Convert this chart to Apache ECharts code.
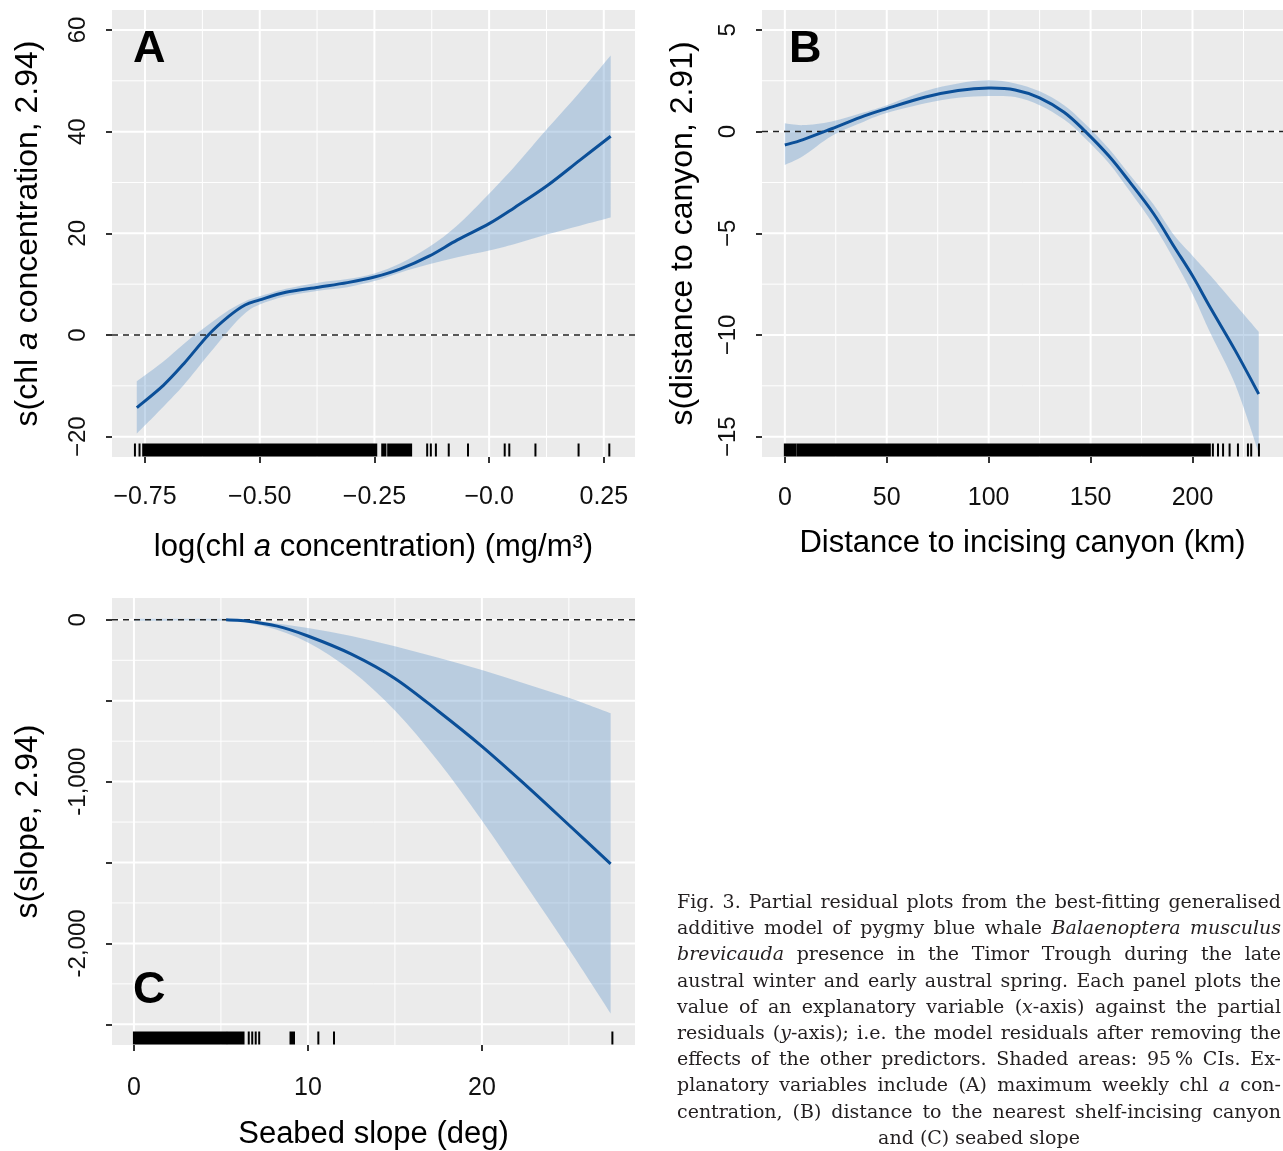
<!DOCTYPE html>
<html>
<head>
<meta charset="utf-8">
<script src="https://cdn.jsdelivr.net/npm/echarts@6/dist/echarts.min.js"></script>
<style>
  html, body { margin: 0; padding: 0; background: #fff; overflow: hidden; }
  #chart { position: absolute; left: 0; top: 0; width: 1283px; height: 1151px; }
  #caption {
    position: absolute; left: 677px; top: 888px; width: 604px;
    font-family: "DejaVu Serif", "Liberation Serif", serif; font-size: 19px;
    line-height: 26.2px; color: #231f20;
  }
  #caption div { text-align: justify; text-align-last: justify; }
  #caption div.last { text-align: center; text-align-last: center; }
</style>
</head>
<body>
<div id="chart"></div>
<div id="caption">
  <div>Fig. 3. Partial residual plots from the best-fitting generalised</div>
  <div>additive model of pygmy blue whale <i>Balaenoptera musculus</i></div>
  <div><i>brevicauda</i> presence in the Timor Trough during the late</div>
  <div>austral winter and early austral spring. Each panel plots the</div>
  <div>value of an explanatory variable (<i>x</i>-axis) against the partial</div>
  <div>residuals (<i>y</i>-axis); i.e. the model residuals after removing the</div>
  <div>effects of the other predictors. Shaded areas: 95&#8201;% CIs. Ex-</div>
  <div>planatory variables include (A) maximum weekly chl <i>a</i> con-</div>
  <div>centration, (B) distance to the nearest shelf-incising canyon</div>
  <div class="last">and (C) seabed slope</div>
</div>
<script>
// ---- panel A: chl a ----
const chlX = [-0.768, -0.71, -0.665, -0.612, -0.567, -0.532, -0.5, -0.443, -0.372, -0.309, -0.25, -0.193, -0.131, -0.069, 0, 0.056, 0.127, 0.198, 0.265];
const chlFit = [-14.3, -9.9, -5.6, 0, 3.7, 5.9, 6.9, 8.4, 9.4, 10.3, 11.4, 13.0, 15.5, 18.7, 21.9, 25.1, 29.4, 34.4, 39.1];
const chlLo = [-19.4, -14.1, -9.8, -3.9, 1.0, 4.3, 6.0, 7.6, 8.7, 9.4, 10.6, 12.3, 13.9, 15.3, 16.6, 17.9, 19.8, 21.5, 23.1];
const chlHi = [-9.1, -5.2, -1.7, 2.0, 4.9, 6.6, 7.6, 9.1, 10.3, 11.0, 12.1, 14.1, 17.3, 21.6, 27.8, 33.2, 40.6, 47.8, 55.0];
const chlRug = [-0.772, -0.762, [-0.754, -0.246], [-0.233, -0.226], [-0.22, -0.17], -0.135, -0.127, -0.116, -0.088, -0.046, 0.034, 0.044, 0.101, 0.195, 0.262];
const chlTicks = [-0.75, -0.5, -0.25, 0, 0.25];
const chlTickLabels = ['\u22120.75', '\u22120.50', '\u22120.25', '\u22120.0', '0.25'];
const chlYTicks = [-20, 0, 20, 40, 60];
const chlYTickLabels = ['\u221220', '0', '20', '40', '60'];
const chlMinorX = [-0.625, -0.375, -0.125, 0.125];
const chlMinorY = [-10, 10, 30, 50];

// ---- panel B: distance to canyon ----
const distX = [0, 9, 23, 39, 50, 69, 85, 100, 113, 125, 137, 147, 159, 169, 181, 191, 200, 209, 221, 232.5];
const distFit = [-0.66, -0.39, 0.14, 0.77, 1.13, 1.7, 2.02, 2.14, 2.05, 1.66, 0.95, 0.05, -1.2, -2.45, -4.05, -5.66, -7.09, -8.7, -10.77, -12.9];
const distLo = [-1.64, -1.2, -0.21, 0.5, 0.91, 1.39, 1.66, 1.75, 1.7, 1.3, 0.59, -0.3, -1.55, -2.9, -4.6, -6.3, -7.98, -9.95, -12.45, -15.8];
const distHi = [0.41, 0.32, 0.5, 0.95, 1.3, 2.0, 2.37, 2.52, 2.37, 1.98, 1.3, 0.41, -0.84, -2.1, -3.6, -5.1, -6.1, -7.1, -8.5, -9.84];
const distRug = [[0, 5.3], [6.3, 208.5], 210, 212.5, 215, 218.2, 222.3, 227.2, 228.8, 232.6];
const distTicks = [0, 50, 100, 150, 200];
const distTickLabels = ['0', '50', '100', '150', '200'];
const distYTicks = [-15, -10, -5, 0, 5];
const distYTickLabels = ['\u221215', '\u221210', '\u22125', '0', '5'];
const distMinorX = [25, 75, 125, 175, 225];
const distMinorY = [-12.5, -7.5, -2.5, 2.5];

// ---- panel C: seabed slope ----
const slopeFitX = [5.3, 6.35, 8.24, 10, 12.5, 15, 17.5, 20, 22.5, 25, 27.4];
const slopeFit = [0, -5, -39, -100, -212, -362, -565, -782, -1020, -1268, -1508];
const slopeBandX = [0, 5, 7.5, 10, 12.5, 15, 17.5, 20, 22.5, 25, 27.4];
const slopeLo = [-6, -6, -40, -140, -315, -560, -875, -1240, -1635, -2035, -2433];
const slopeHi = [6, 6, -14, -51, -100, -164, -235, -310, -395, -482, -578];
const slopeRug = [[0, 5.3], [5.4, 6.3], 6.6, 6.8, 7.0, 7.2, [9.0, 9.2], 10.6, 11.5, 27.5];
const slopeTicks = [0, 10, 20];
const slopeTickLabels = ['0', '10', '20'];
const slopeYTicks = [-2500, -2000, -1500, -1000, -500, 0];
const slopeYLabelVals = [-2000, -1000, 0];
const slopeYTickLabels = ['-2,000', '-1,000', '0'];
const slopeMinorX = [5, 15, 25];
const slopeMinorY = [-2250, -1750, -1250, -750, -250];

const FONT = '"Liberation Sans", Arial, Helvetica, sans-serif';
const BAND = 'rgba(117,162,207,0.42)';
const LINE = '#0B4F98';

const chart = echarts.init(document.getElementById('chart'));

function labelOf(vals, labels) {
  return v => {
    const i = vals.findIndex(t => Math.abs(t - v) < 1e-6);
    return i < 0 ? '' : labels[i];
  };
}

function nameStyle(size) {
  return { fontSize: size, color: '#000', fontFamily: FONT,
    rich: { i: { fontSize: size, color: '#000', fontFamily: FONT, fontStyle: 'italic' } } };
}

function xAxisCfg(gi, min, max, ticks, labels, margin, name, gap) {
  return {
    type: 'value', gridIndex: gi, min: min, max: max,
    axisLine: { show: false, onZero: false }, splitLine: { show: false },
    axisTick: { show: true, customValues: ticks, length: 6, lineStyle: { color: '#333', width: 2 } },
    axisLabel: { customValues: ticks, formatter: labelOf(ticks, labels), fontSize: 25, color: '#111', margin: margin, fontFamily: FONT },
    name: name, nameLocation: 'middle', nameGap: gap, nameTextStyle: nameStyle(31)
  };
}

function yAxisCfg(gi, min, max, ticks, labelVals, labels, name, gap) {
  return {
    type: 'value', gridIndex: gi, min: min, max: max,
    axisLine: { show: false, onZero: false }, splitLine: { show: false },
    axisTick: { show: true, customValues: ticks, length: 6, lineStyle: { color: '#333', width: 2 } },
    axisLabel: { customValues: labelVals, formatter: labelOf(labelVals, labels), rotate: 90, fontSize: 24, color: '#111', margin: 22, fontFamily: FONT },
    name: name, nameLocation: 'middle', nameGap: gap, nameTextStyle: nameStyle(32)
  };
}

// white grid lines (and the dashed zero line) drawn across the panel
function refLines(gi, values, dim, style, z) {
  return {
    type: 'custom', xAxisIndex: gi, yAxisIndex: gi, silent: true, z: z,
    data: values.map(v => [v]),
    encode: dim === 'x' ? { x: 0 } : { y: 0 },
    renderItem: (params, api) => {
      const cs = params.coordSys;
      if (dim === 'x') {
        const x = api.coord([api.value(0), 0])[0];
        return { type: 'line', shape: { x1: x, y1: cs.y, x2: x, y2: cs.y + cs.height }, style: style };
      }
      const y = api.coord([0, api.value(0)])[1];
      return { type: 'line', shape: { x1: cs.x, y1: y, x2: cs.x + cs.width, y2: y }, style: style };
    }
  };
}

function gridLines(gi, majX, minX, majY, minY) {
  const maj = { stroke: '#fff', lineWidth: 2 };
  const min = { stroke: '#fff', lineWidth: 1 };
  return [
    refLines(gi, minX, 'x', min, 1), refLines(gi, minY, 'y', min, 1),
    refLines(gi, majX, 'x', maj, 1), refLines(gi, majY, 'y', maj, 1),
    refLines(gi, [0], 'y', { stroke: '#222', lineWidth: 1.5, lineDash: [6, 5] }, 4)
  ];
}

// Catmull-Rom spline through pixel points, as path commands
function spline(pts) {
  let d = '';
  for (let i = 0; i < pts.length - 1; i++) {
    const p0 = pts[i - 1] || pts[i], p1 = pts[i], p2 = pts[i + 1], p3 = pts[i + 2] || pts[i + 1];
    const c1 = [p1[0] + (p2[0] - p0[0]) / 6, p1[1] + (p2[1] - p0[1]) / 6];
    const c2 = [p2[0] - (p3[0] - p1[0]) / 6, p2[1] - (p3[1] - p1[1]) / 6];
    d += ' C' + c1[0] + ',' + c1[1] + ' ' + c2[0] + ',' + c2[1] + ' ' + p2[0] + ',' + p2[1];
  }
  return d;
}

// confidence band as one filled shape
function band(gi, xs, lo, hi) {
  return {
    type: 'custom', xAxisIndex: gi, yAxisIndex: gi, silent: true, z: 2,
    data: xs.map((x, i) => [x, lo[i], hi[i]]),
    encode: { x: 0, y: [1, 2] },
    renderItem: (params, api) => {
      if (params.dataIndex !== 0) return null;
      const top = xs.map((x, i) => api.coord([x, hi[i]]));
      const bot = xs.map((x, i) => api.coord([x, lo[i]])).reverse();
      const d = 'M' + top[0][0] + ',' + top[0][1] + spline(top) +
        ' L' + bot[0][0] + ',' + bot[0][1] + spline(bot) + ' Z';
      return { type: 'path', shape: { pathData: d }, style: { fill: BAND } };
    }
  };
}

// fitted smooth drawn with the same spline
function fit(gi, xs, ys) {
  return {
    type: 'custom', xAxisIndex: gi, yAxisIndex: gi, silent: true, z: 5,
    data: xs.map((x, i) => [x, ys[i]]),
    encode: { x: 0, y: 1 },
    renderItem: (params, api) => {
      if (params.dataIndex !== 0) return null;
      const pts = xs.map((x, i) => api.coord([x, ys[i]]));
      const d = 'M' + pts[0][0] + ',' + pts[0][1] + spline(pts);
      return { type: 'path', shape: { pathData: d },
        style: { fill: null, stroke: LINE, lineWidth: 3, lineJoin: 'round', lineCap: 'butt' } };
    }
  };
}

function rug(gi, items) {
  return {
    type: 'custom', xAxisIndex: gi, yAxisIndex: gi, silent: true, z: 6,
    data: items.map(r => Array.isArray(r) ? r : [r, r]),
    encode: { x: [0, 1] },
    renderItem: (params, api) => {
      const cs = params.coordSys;
      const x1 = api.coord([api.value(0), 0])[0];
      const x2 = api.coord([api.value(1), 0])[0];
      return { type: 'rect', shape: { x: x1 - 1, y: cs.y + cs.height - 13.5, width: x2 - x1 + 2, height: 13 },
        style: { fill: '#000' } };
    }
  };
}

function letter(text, x, y) {
  return { type: 'text', left: x, top: y, z: 10,
    style: { text: text, fontSize: 45, fontWeight: 'bold', fontFamily: FONT, fill: '#000' } };
}

const gridBox = { show: true, backgroundColor: '#EBEBEB', borderWidth: 0 };

chart.setOption({
  animation: false,
  grid: [
    Object.assign({ left: 112, top: 10, width: 523, height: 447 }, gridBox),
    Object.assign({ left: 762, top: 10, width: 524, height: 447 }, gridBox),
    Object.assign({ left: 112, top: 598, width: 523, height: 448 }, gridBox)
  ],
  xAxis: [
    xAxisCfg(0, -0.822, 0.318, chlTicks, chlTickLabels, 28, 'log(chl {i|a} concentration) (mg/m\u00b3)', 75),
    xAxisCfg(1, -11.2, 244.4, distTicks, distTickLabels, 29, 'Distance to incising canyon (km)', 71),
    xAxisCfg(2, -1.26, 28.8, slopeTicks, slopeTickLabels, 31, 'Seabed slope (deg)', 74)
  ],
  yAxis: [
    yAxisCfg(0, -24.0, 63.93, chlYTicks, chlYTicks, chlYTickLabels, 's(chl {i|a} concentration, 2.94)', 68),
    yAxisCfg(1, -16.0, 5.98, distYTicks, distYTicks, distYTickLabels, 's(distance to canyon, 2.91)', 63),
    yAxisCfg(2, -2628, 135, slopeYTicks, slopeYLabelVals, slopeYTickLabels, 's(slope, 2.94)', 68)
  ],
  graphic: [letter('A', 133, 27), letter('B', 789, 27), letter('C', 133, 968)],
  series: [].concat(
    gridLines(0, chlTicks, chlMinorX, chlYTicks, chlMinorY),
    [band(0, chlX, chlLo, chlHi), fit(0, chlX, chlFit), rug(0, chlRug)],
    gridLines(1, distTicks, distMinorX, distYTicks, distMinorY),
    [band(1, distX, distLo, distHi), fit(1, distX, distFit), rug(1, distRug)],
    gridLines(2, slopeTicks, slopeMinorX, slopeYTicks, slopeMinorY),
    [band(2, slopeBandX, slopeLo, slopeHi), fit(2, slopeFitX, slopeFit), rug(2, slopeRug)]
  )
});
</script>
</body>
</html>
